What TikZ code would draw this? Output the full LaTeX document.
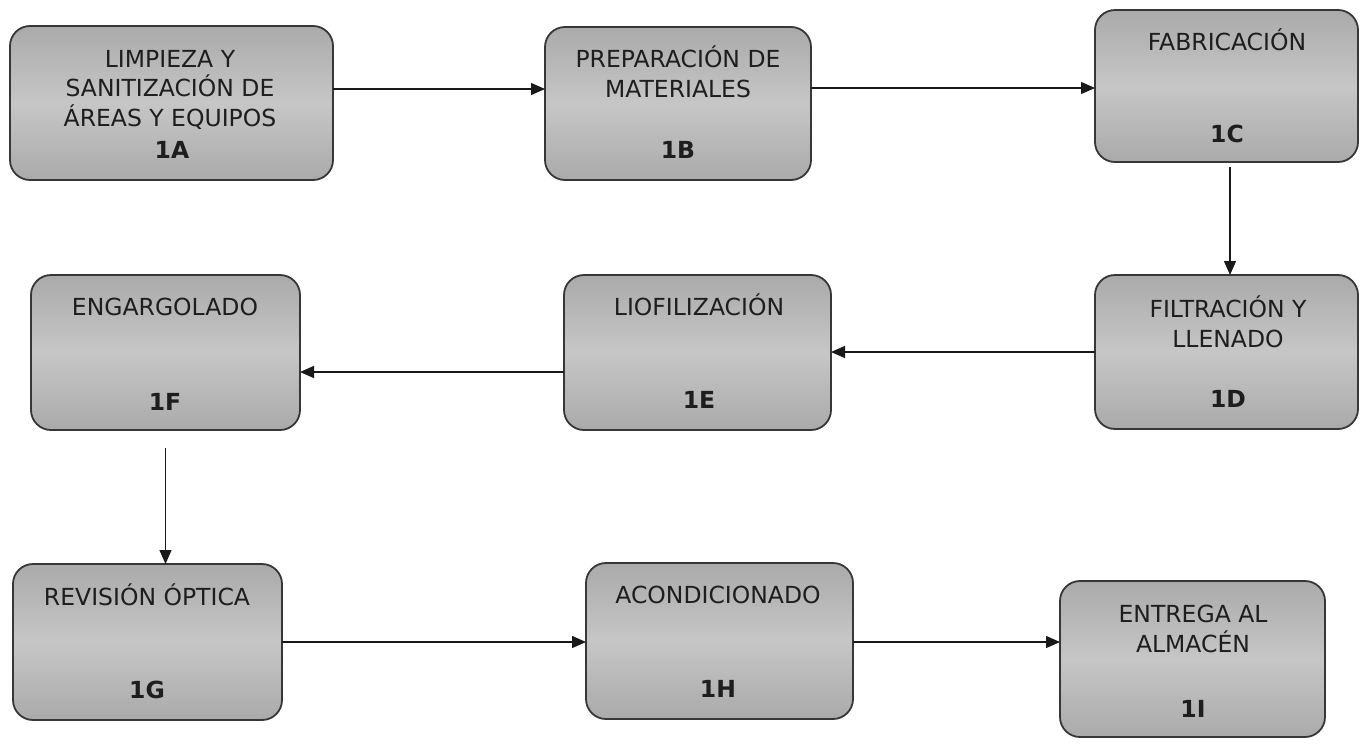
\documentclass[tikz,border=0pt]{standalone}
\usepackage{fontspec}
\setmainfont{DejaVu Sans}
\usetikzlibrary{arrows.meta}
\definecolor{boxgray}{RGB}{170,170,170}
\definecolor{boxlight}{RGB}{198,198,198}
\definecolor{boxedge}{RGB}{55,55,55}
\definecolor{txt}{RGB}{30,30,30}
\tikzset{
  procbox/.style={draw=boxedge, line width=1.8pt, rounded corners=20pt,
    top color=boxgray, bottom color=boxgray, middle color=boxlight,
    inner sep=0pt, outer sep=0pt},
  title/.style={anchor=base, align=center, inner sep=0pt, text=txt,
    font=\fontsize{23.5}{29.2}\selectfont},
  code/.style={anchor=base, inner sep=0pt, text=txt,
    font=\fontsize{23.5}{29.2}\selectfont\bfseries},
  arr/.style={line width=1.3pt, draw=black!90, -{Triangle[length=14pt,width=12pt]}}
}
\begin{document}
\begin{tikzpicture}[x=1pt,y=-1pt]
\useasboundingbox (0,0) rectangle (1366,745);
% boxes
\node[procbox, minimum width=323pt, minimum height=154pt] (a) at (171.5,103) {};
\node[procbox, minimum width=266pt, minimum height=153pt] (b) at (678,103.5) {};
\node[procbox, minimum width=263pt, minimum height=152pt] (c) at (1226.5,86) {};
\node[procbox, minimum width=263pt, minimum height=154pt] (d) at (1226.5,352) {};
\node[procbox, minimum width=267pt, minimum height=155pt] (e) at (697.5,352.5) {};
\node[procbox, minimum width=269pt, minimum height=155pt] (f) at (165.5,352.5) {};
\node[procbox, minimum width=269pt, minimum height=156pt] (g) at (147.5,642) {};
\node[procbox, minimum width=267pt, minimum height=156pt] (h) at (719.5,641) {};
\node[procbox, minimum width=265pt, minimum height=156pt] (i) at (1192.5,659) {};
% titles (anchor base = baseline of the last line)
\node[title] (ta) at (170,126) {LIMPIEZA Y\\SANITIZACIÓN DE\\ÁREAS Y EQUIPOS};
\node[code] (ca) at (172,158) {1A};
\node[title] (tb) at (678,97) {PREPARACIÓN DE\\MATERIALES};
\node[code] (cb) at (678,158) {1B};
\node[title] (tc) at (1227,50) {FABRICACIÓN};
\node[code] (cc) at (1227,142) {1C};
\node[title] (td) at (1228,347) {FILTRACIÓN Y\\LLENADO};
\node[code] (cd) at (1228,407) {1D};
\node[title] (te) at (699,315) {LIOFILIZACIÓN};
\node[code] (ce) at (699,408) {1E};
\node[title] (tf) at (165,315) {ENGARGOLADO};
\node[code] (cf) at (165,410) {1F};
\node[title] (tg) at (147,605) {REVISIÓN ÓPTICA};
\node[code] (cg) at (147,698) {1G};
\node[title] (th) at (718,603) {ACONDICIONADO};
\node[code] (ch) at (718,697) {1H};
\node[title] (ti) at (1193,652) {ENTREGA AL\\ALMACÉN};
\node[code] (ci) at (1193,717) {1I};
% connectors
\draw[arr] (a.east |- 0,89) -- (b.west |- 0,89);
\draw[arr] (b.east |- 0,88) -- (c.west |- 0,88);
\draw[arr] ([yshift=-5pt]c.south -| 1230,0) -- (d.north -| 1230,0);
\draw[arr] (d.west) -- (e.east |- d.west);
\draw[arr] (e.west |- 0,372) -- (f.east |- 0,372);
\draw[arr] ([yshift=-18pt]f.south) -- (g.north -| f.south);
\draw[arr] (g.east |- 0,642) -- (h.west |- 0,642);
\draw[arr] (h.east |- 0,642) -- (i.west |- 0,642);
\end{tikzpicture}
\end{document}
